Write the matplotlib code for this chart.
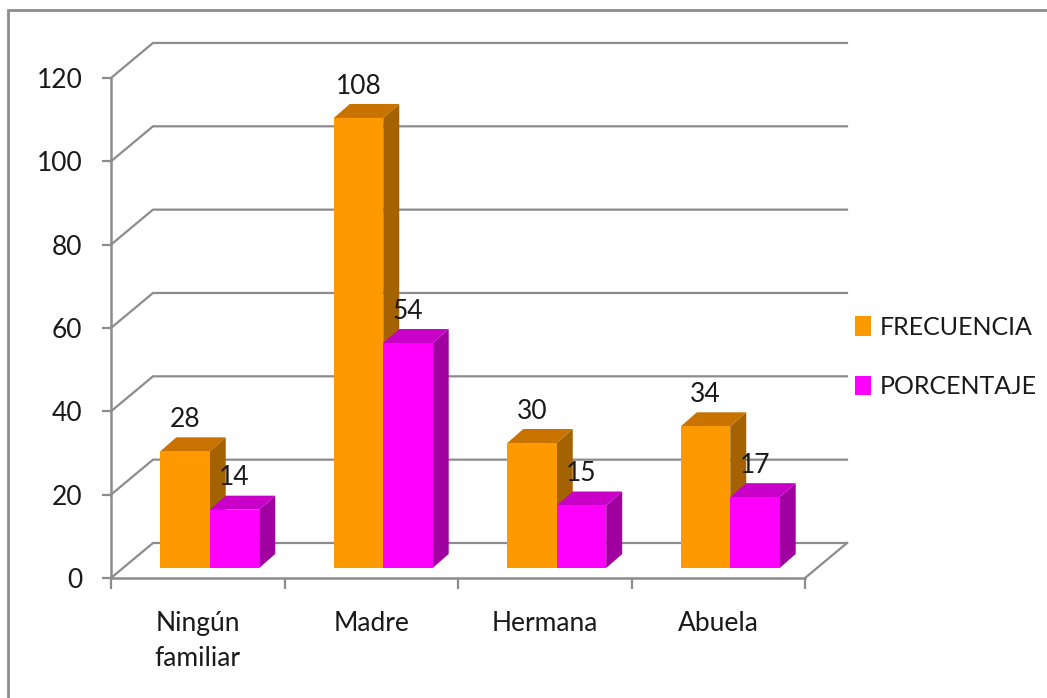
import numpy as np
import matplotlib
matplotlib.use("Agg")
import matplotlib.pyplot as plt
from matplotlib.patches import Polygon, Rectangle, Patch

plt.rcParams['font.family'] = ['Lato', 'DejaVu Sans']

# datos
categorias = ["Ningún\nfamiliar", "Madre", "Hermana", "Abuela"]
frecuencia = [28, 108, 30, 34]
porcentaje = [14, 54, 15, 17]
series = ["FRECUENCIA", "PORCENTAJE"]
ticks_y = [0, 20, 40, 60, 80, 100, 120]

# colores (frente, arriba, lado)
col_fre = ("#FF9900", "#C87200", "#A46200")
col_por = ("#FF00FF", "#C800C8", "#A000A0")
gris = "#8c8c8c"
texto = "#1a1a1a"
fs = 19

W, H = 1047, 698
fig = plt.figure(figsize=(W / 100, H / 100), dpi=100)

# escala: 1 categoria = 173.5 px, 1 unidad = 4.167 px, origen en (111, 578)
sx, sy = 173.5, 4.167
x0, y0 = 111, H - 578
xlim = (-0.6, 5.3)
ylim = (-25, 135)
ax = fig.add_axes([(x0 + sx * xlim[0]) / W, (y0 + sy * ylim[0]) / H,
                   sx * (xlim[1] - xlim[0]) / W, sy * (ylim[1] - ylim[0]) / H])
ax.set_xlim(*xlim)
ax.set_ylim(*ylim)
ax.patch.set_visible(False)

# profundidad de la pared de fondo y de las barras
ddx, ddy = 42 / sx, 35 / sy
fx, fy = 12 / sx, 10 / sy        # desplazamiento de la cara frontal de las barras
bdx, bdy = 16 / sx, 14 / sy      # profundidad de cada barra
ancho = 0.285
n = len(categorias)

# paredes y rejilla
for v in ticks_y:
    ax.plot([0, ddx, n + ddx], [v, v + ddy, v + ddy], color=gris, lw=1.6, zorder=1,
            solid_joinstyle='miter')
ax.plot([n, n + ddx], [0, ddy], color=gris, lw=1.6, zorder=1)

# ejes frontales
for s in ["top", "right"]:
    ax.spines[s].set_visible(False)
ax.spines["left"].set_position(("data", 0))
ax.spines["bottom"].set_position(("data", 0))
ax.spines["left"].set_bounds(0, ticks_y[-1])
ax.spines["bottom"].set_bounds(0, n)
for s in ["left", "bottom"]:
    ax.spines[s].set_color(gris)
    ax.spines[s].set_linewidth(1.8)
    ax.spines[s].set_zorder(1)

ax.set_yticks(ticks_y)
ax.set_yticklabels([str(t) for t in ticks_y])
ax.tick_params(axis="y", direction="out", length=6.5, width=1.6, color=gris,
               pad=14, labelsize=fs, labelcolor=texto)
ax.set_xticks(np.arange(n + 1))
ax.set_xticklabels([])
ax.set_xticks(np.arange(n) + 0.5, minor=True)
ax.set_xticklabels(categorias, minor=True)
ax.tick_params(axis="x", which="major", direction="out", length=8, width=1.6, color=gris)
ax.tick_params(axis="x", which="minor", length=0, pad=24, labelsize=fs, labelcolor=texto)
for lab in ax.get_xticklabels(minor=True):
    lab.set_linespacing(1.5)


def barra3d(xs, alturas, cols, z):
    izq = xs + fx
    ax.bar(izq, alturas, width=ancho, bottom=fy, align="edge", color=cols[0],
           edgecolor="none", zorder=z + 0.2)
    for x, h in zip(izq, alturas):
        top = fy + h
        ax.add_patch(Polygon([(x, top), (x + ancho, top), (x + ancho + bdx, top + bdy),
                              (x + bdx, top + bdy)], closed=True, facecolor=cols[1],
                             edgecolor="none", zorder=z + 0.1))
        ax.add_patch(Polygon([(x + ancho, fy), (x + ancho + bdx, fy + bdy),
                              (x + ancho + bdx, top + bdy), (x + ancho, top)], closed=True,
                             facecolor=cols[2], edgecolor="none", zorder=z))
        ax.text(x + ancho / 2, top + 7.6, str(h), ha="center", va="center",
                fontsize=fs, color=texto, zorder=10)


centros = np.arange(n) + 0.5
barra3d(centros - ancho, np.array(frecuencia), col_fre, 3)
barra3d(centros, np.array(porcentaje), col_por, 4)

# leyenda
manejadores = [Patch(facecolor=col_fre[0], edgecolor="none", label=series[0]),
               Patch(facecolor=col_por[0], edgecolor="none", label=series[1])]
fig.legend(handles=manejadores, loc="center left", bbox_to_anchor=(855 / W, 1 - 357 / H),
           frameon=False, fontsize=18, handlelength=0.65, handleheight=0.85,
           handletextpad=0.35, labelspacing=1.45, borderpad=0, borderaxespad=0,
           labelcolor=texto)

# marco exterior
fig.patches.append(Rectangle((8 / W, -0.1), 1.2, 1.1 - 10 / H, transform=fig.transFigure,
                             facecolor="none", edgecolor=gris, lw=2.0))

fig.savefig("out.png", dpi=100)
